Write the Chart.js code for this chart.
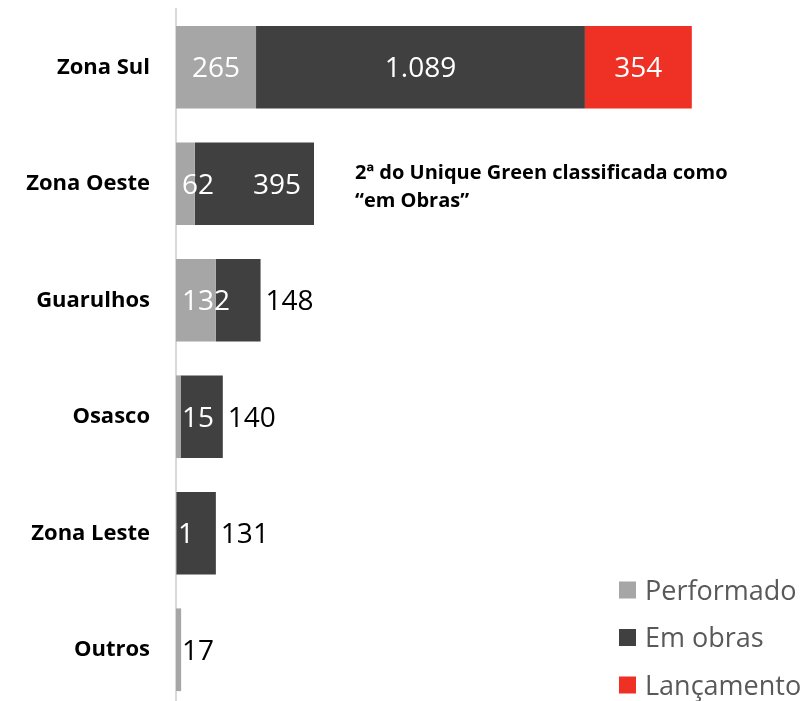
<!DOCTYPE html>
<html>
<head>
<meta charset="utf-8">
<script src="https://cdn.jsdelivr.net/npm/chart.js@4/dist/chart.umd.min.js"></script>
<style>
  html, body { margin: 0; padding: 0; background: #fff; overflow: hidden; }
  #wrap { width: 809px; height: 708px; }
</style>
</head>
<body>
<div id="wrap"><canvas id="chart"></canvas></div>
<script>
// chart data
const categories = ['Zona Sul', 'Zona Oeste', 'Guarulhos', 'Osasco', 'Zona Leste', 'Outros'];
const performado = [265, 62, 132, 15, 1, 17];
const emObras = [1089, 395, 148, 140, 131, 0];
const lancamento = [354, 0, 0, 0, 0, 0];
const seriesNames = ['Performado', 'Em obras', 'Lançamento'];
const noteLines = ['2ª do Unique Green classificada como', '“em Obras”'];

const colors = ['#a6a6a6', '#404040', '#ee3124'];
const FONT = "'Open Sans', sans-serif";

function fmt(v) {
    return v.toLocaleString('pt-BR');
}

// value labels, placed from the bar elements
const barLabels = {
    id: 'barLabels',
    afterDatasetsDraw(chart) {
        const ctx = chart.ctx;
        const xs = chart.scales.x;
        ctx.save();
        ctx.font = '28px ' + FONT;
        ctx.textAlign = 'center';
        ctx.textBaseline = 'alphabetic';
        chart.data.labels.forEach((_, j) => {
            let total = 0;
            chart.data.datasets.forEach(ds => { total += ds.data[j]; });
            const stackEnd = xs.getPixelForValue(total);
            let prevRight = -1;
            chart.data.datasets.forEach((ds, i) => {
                const v = ds.data[j];
                if (!v) return;
                const el = chart.getDatasetMeta(i).data[j];
                const start = Math.min(el.base, el.x), end = Math.max(el.base, el.x);
                const txt = fmt(v);
                const w = ctx.measureText(txt).width;
                const yb = el.y + 10;
                let cx, color = '#fff';
                if (i === 0) {
                    cx = Math.max((start + end) / 2, start + w / 2 + (w < 20 ? 2 : 6));
                    if (cx + w / 2 > stackEnd) color = '#000';
                } else if (w + 10 <= end - start && prevRight <= start) {
                    cx = (start + end) / 2;
                } else if (w + 10 <= end - start) {
                    cx = end - 13 - w / 2;
                } else {
                    cx = end + 5 + w / 2;
                    color = '#000';
                }
                ctx.fillStyle = color;
                ctx.fillText(txt, cx, yb);
                prevRight = cx + w / 2;
            });
        });
        ctx.restore();
    }
};

// legend in the bottom right corner + note text
const sideLegend = {
    id: 'sideLegend',
    afterDraw(chart) {
        const ctx = chart.ctx;
        ctx.save();
        ctx.font = '27px ' + FONT;
        ctx.textBaseline = 'alphabetic';
        ctx.textAlign = 'left';
        chart.data.datasets.forEach((ds, k) => {
            const cy = 590 + 47.5 * k;
            ctx.fillStyle = ds.backgroundColor;
            ctx.fillRect(619, cy - 8.5, 17, 17);
            ctx.fillStyle = '#595959';
            ctx.fillText(ds.label, 645, cy + 9.5);
        });

        ctx.font = 'bold 20px ' + FONT;
        ctx.fillStyle = '#000';
        noteLines.forEach((line, k) => {
            ctx.fillText(line, 355, 179 + 28 * k);
        });
        ctx.restore();
    }
};

new Chart(document.getElementById('chart'), {
    type: 'bar',
    data: {
        labels: categories,
        datasets: [
            { label: seriesNames[0], data: performado, backgroundColor: colors[0] },
            { label: seriesNames[1], data: emObras, backgroundColor: colors[1] },
            { label: seriesNames[2], data: lancamento, backgroundColor: colors[2] }
        ]
    },
    options: {
        indexAxis: 'y',
        responsive: true,
        maintainAspectRatio: false,
        animation: false,
        categoryPercentage: 1,
        barPercentage: 0.71,
        layout: { padding: { top: 9, right: 29, bottom: 0, left: 0 } },
        plugins: {
            legend: { display: false },
            tooltip: { enabled: false }
        },
        scales: {
            x: {
                stacked: true,
                display: false,
                min: 0,
                max: 2000
            },
            y: {
                stacked: true,
                afterFit(scale) {
                    scale.width = 176;
                    scale.paddingTop = 0;
                    scale.paddingBottom = 0;
                },
                grid: { display: false, drawTicks: false },
                border: { color: '#d9d9d9', width: 2 },
                ticks: {
                    padding: 26,
                    color: '#000',
                    font: { family: FONT, size: 22, weight: 'bold' }
                }
            }
        }
    },
    plugins: [barLabels, sideLegend]
});
</script>
</body>
</html>
